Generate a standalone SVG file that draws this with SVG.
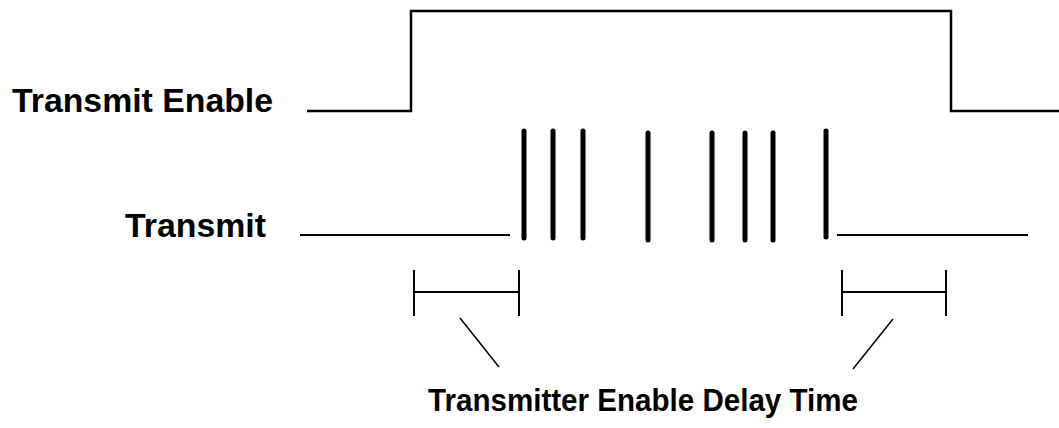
<svg xmlns="http://www.w3.org/2000/svg" width="1059" height="428" viewBox="0 0 1059 428">
<style>
.lbl{font-family:"Liberation Sans",Arial,sans-serif;font-weight:bold;fill:#000}
.sig{fill:none;stroke:#000;stroke-width:2.5}
.line{fill:none;stroke:#000;stroke-width:2}
.pulse{stroke:#000;stroke-width:5;stroke-linecap:round}
.thin{stroke:#000;stroke-width:1.5}
</style>
<rect width="1059" height="428" fill="#fff"/>
<g id="label-transmit-enable"><text class="lbl" x="12" y="112" font-size="34" textLength="261" lengthAdjust="spacingAndGlyphs">Transmit Enable</text></g>
<g id="label-transmit"><text class="lbl" x="125" y="237" font-size="34" textLength="141" lengthAdjust="spacingAndGlyphs">Transmit</text></g>
<g id="label-delay"><text class="lbl" x="428" y="411" font-size="32" textLength="430" lengthAdjust="spacingAndGlyphs">Transmitter Enable Delay Time</text></g>
<g id="signal-transmit-enable"><polyline class="sig" points="307,111 411,111 411,11 951,11 951,111 1059,111"/></g>
<g id="signal-transmit">
<line class="line" x1="300" y1="235" x2="510" y2="235"/>
<line class="line" x1="837" y1="235" x2="1028" y2="235"/>
<line class="pulse" x1="524" y1="131" x2="524" y2="238"/>
<line class="pulse" x1="553" y1="131" x2="553" y2="238"/>
<line class="pulse" x1="583" y1="131" x2="583" y2="238"/>
<line class="pulse" x1="648" y1="133" x2="648" y2="240"/>
<line class="pulse" x1="712" y1="133" x2="712" y2="240"/>
<line class="pulse" x1="745" y1="133" x2="745" y2="240"/>
<line class="pulse" x1="773" y1="133" x2="773" y2="240"/>
<line class="pulse" x1="826" y1="131" x2="826" y2="237"/>
</g>
<g id="bracket-left">
<line class="line" x1="414" y1="270" x2="414" y2="316"/>
<line class="line" x1="519" y1="270" x2="519" y2="316"/>
<line class="line" x1="414" y1="292" x2="519" y2="292"/>
</g>
<g id="bracket-right">
<line class="line" x1="842" y1="270" x2="842" y2="316"/>
<line class="line" x1="946" y1="270" x2="946" y2="316"/>
<line class="line" x1="842" y1="292" x2="946" y2="292"/>
</g>
<g id="connectors">
<line class="thin" x1="460" y1="318" x2="499" y2="367"/>
<line class="thin" x1="893" y1="319" x2="853" y2="369"/>
</g>
</svg>
